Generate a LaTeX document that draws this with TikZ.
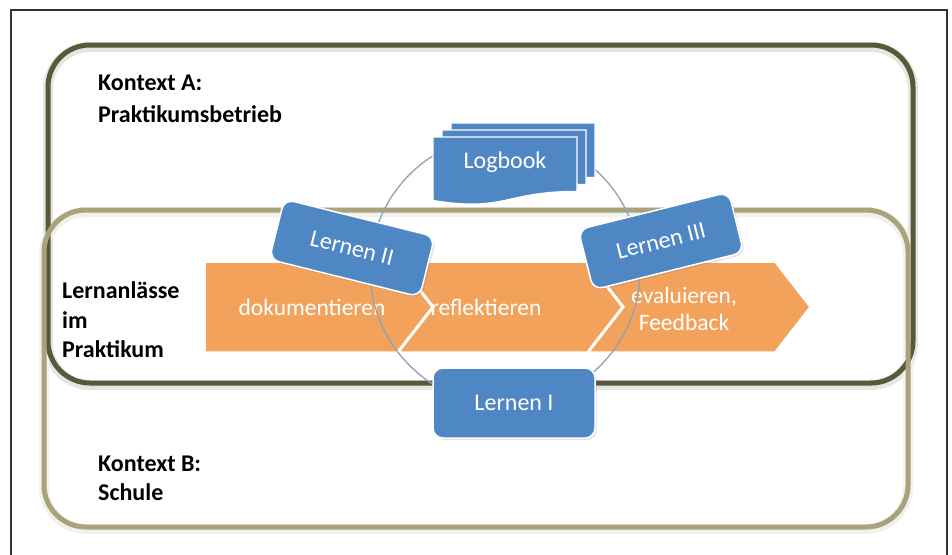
\documentclass[tikz,border=0pt]{standalone}
\usepackage{fontspec}
\setmainfont{Carlito}
\usetikzlibrary{shadows}
\definecolor{ctxA}{HTML}{58583A}
\definecolor{ctxB}{HTML}{A9A37B}
\definecolor{blu}{HTML}{4F86C4}
\definecolor{org}{HTML}{F3A25B}
\definecolor{ring}{HTML}{8FA3B8}
\tikzset{
  ctxbox/.style={line width=5pt, rounded corners=42pt},
  ctxglow/.style={line width=10pt, rounded corners=42pt},
  chev/.style={fill=org, draw=white, line width=1.5pt},
  chevtext/.style={text=white, font=\fontsize{23.5}{27}\selectfont, align=center},
  lernbox/.style={fill=blu, draw=white, line width=1.5pt, rounded corners=10pt,
    minimum width=155pt, minimum height=62pt, text=white, font=\fontsize{24}{28}\selectfont,
    drop shadow={opacity=0.2, shadow xshift=2pt, shadow yshift=-2pt}},
  doc/.style={fill=blu, draw=white, line width=1.3pt},
  lbl/.style={anchor=base west, font=\bfseries\fontsize{24}{29}\selectfont, inner sep=0pt},
}
\begin{document}
\begin{tikzpicture}[x=1pt,y=-1pt]
\useasboundingbox (0,0) rectangle (952,554);
\clip (0,0) rectangle (952,554);
\fill[white] (0,0) rectangle (952,554);
% outer frame
\draw[line width=1.6pt, black!80] (11,10) rectangle (947,600);
% context boxes (soft glow, then line)
\draw[ctxglow, ctxA!15] (48,47) rectangle (913,385);
\draw[ctxglow, ctxB!15] (44,212) rectangle (908,529);
\draw[ctxbox, ctxA] (48,45) rectangle (913,383);
\draw[ctxbox, ctxB] (44,210) rectangle (908,527);
% chevrons
\path[chev] (205,262) -- (397,262) -- (432,307) -- (397,352) -- (205,352) -- cycle;
\path[chev] (399,262) -- (587,262) -- (622,307) -- (587,352) -- (399,352) -- (434,307) -- cycle;
\path[chev] (589,262) -- (775,262) -- (810,307) -- (775,352) -- (589,352) -- (624,307) -- cycle;
\node[chevtext] (c1) at (312,307) {dokumentieren};
\node[chevtext] (c2) at (486,307) {reflektieren};
\node[chevtext] (c3) at (684,309) {evaluieren,\\Feedback};
% cycle ring
\draw[ring, line width=1.3pt] (505,270) circle[radius=135pt];
% logbook (multi-document)
\foreach \dx/\dy in {18/-14, 9/-7, 0/0}{
  \path[doc] ({433+\dx},{137+\dy}) -- ({577+\dx},{137+\dy}) -- ({577+\dx},{191.4+\dy})
    .. controls ({505+\dx},{191.4+\dy}) and ({505+\dx},{212.3+\dy}) .. ({433+\dx},{200.5+\dy}) -- cycle;
}
\node[text=white, font=\fontsize{24}{28}\selectfont] (logbook) at (505,162) {Logbook};
% learning boxes
\node[lernbox, rotate=-14] (l2) at (352,248) {Lernen II};
\node[lernbox, rotate=14] (l3) at (661,241) {Lernen III};
\node[lernbox, minimum width=162pt, minimum height=70pt] (l1) at (514,403) {Lernen I};
% labels
\node[lbl] (ka1) at (98,90) {Kontext A:};
\node[lbl] (ka2) at (98,122) {Praktikumsbetrieb};
\node[lbl] (la1) at (62,298) {Lernanlässe};
\node[lbl] (la2) at (62,328) {im};
\node[lbl] (la3) at (62,357) {Praktikum};
\node[lbl] (kb1) at (98,471) {Kontext B:};
\node[lbl] (kb2) at (98,500) {Schule};
\end{tikzpicture}
\end{document}
